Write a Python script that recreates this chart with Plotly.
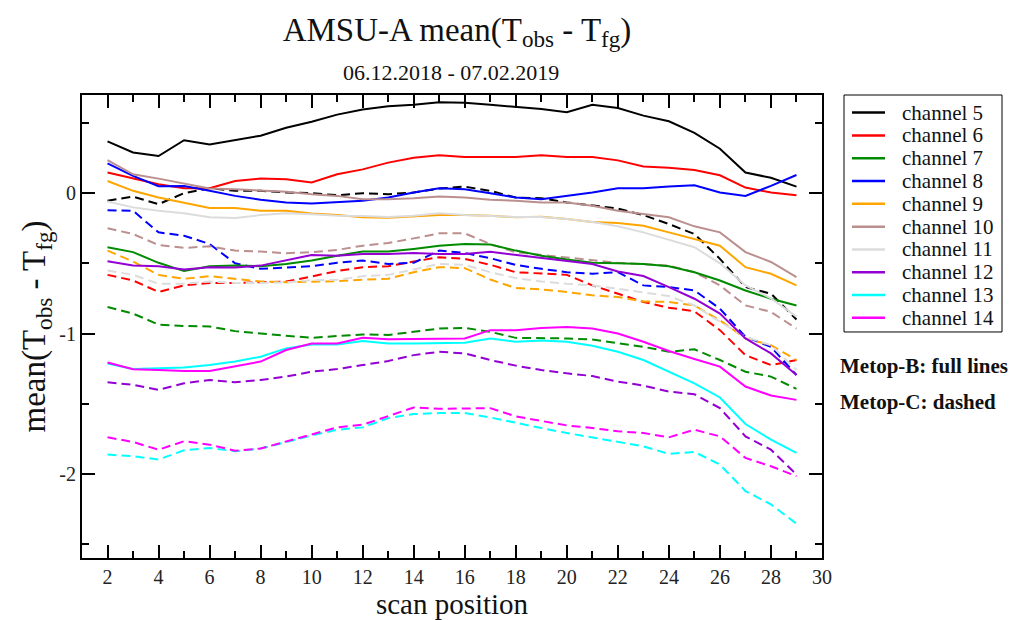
import plotly.graph_objects as go

# Scan positions 2..29
scan = list(range(2, 30))

channels = ["channel 5", "channel 6", "channel 7", "channel 8", "channel 9",
            "channel 10", "channel 11", "channel 12", "channel 13", "channel 14"]
colors = ["#000000", "#ff0000", "#008b00", "#0000ff", "#ffa500",
          "#bc8f8f", "#dcdcdc", "#9400d3", "#00ffff", "#ff00ff"]

y_ticks = [-2, -1, 0]
y_tick_labels = ["-2", "-1", "0"]

# Metop-B (full lines)
b_ch5 = [0.37, 0.29, 0.265, 0.378, 0.347, 0.378, 0.41, 0.466, 0.51, 0.56, 0.596, 0.62, 0.63, 0.648,
         0.645, 0.63, 0.615, 0.60, 0.577, 0.63, 0.607, 0.553, 0.513, 0.43, 0.317, 0.147, 0.11, 0.047]
b_ch6 = [0.147, 0.104, 0.064, 0.035, 0.035, 0.087, 0.104, 0.10, 0.076, 0.135, 0.17, 0.218, 0.253, 0.27,
         0.258, 0.258, 0.258, 0.27, 0.258, 0.258, 0.234, 0.19, 0.182, 0.165, 0.128, 0.04, 0.005, -0.014]
b_ch7 = [-0.385, -0.42, -0.496, -0.555, -0.52, -0.516, -0.52, -0.504, -0.48, -0.445, -0.416, -0.416,
         -0.397, -0.374, -0.362, -0.366, -0.409, -0.445, -0.473, -0.496, -0.50, -0.504, -0.52, -0.563,
         -0.622, -0.693, -0.752, -0.80]
b_ch8 = [0.213, 0.123, 0.05, 0.052, 0.017, -0.019, -0.047, -0.066, -0.073, -0.061, -0.054, -0.031,
         0.005, 0.035, 0.028, 0.0, -0.031, -0.043, -0.019, 0.005, 0.035, 0.035, 0.047, 0.057, 0.005,
         -0.019, 0.052, 0.13]
b_ch9 = [0.087, 0.017, -0.031, -0.066, -0.106, -0.106, -0.125, -0.125, -0.144, -0.156, -0.172, -0.175,
         -0.168, -0.156, -0.156, -0.16, -0.172, -0.168, -0.184, -0.205, -0.213, -0.232, -0.279, -0.326,
         -0.374, -0.527, -0.574, -0.657]
b_ch10 = [0.236, 0.135, 0.104, 0.069, 0.033, 0.028, 0.02, 0.01, -0.007, -0.019, -0.043, -0.043,
          -0.036, -0.024, -0.03, -0.047, -0.054, -0.066, -0.066, -0.09, -0.125, -0.149, -0.172, -0.236,
          -0.279, -0.42, -0.49, -0.598]
b_ch11 = [-0.059, -0.101, -0.125, -0.142, -0.172, -0.177, -0.156, -0.142, -0.15, -0.16, -0.163, -0.17,
          -0.16, -0.142, -0.156, -0.165, -0.17, -0.17, -0.184, -0.205, -0.236, -0.279, -0.331, -0.385,
          -0.50, -0.657, -0.75, -0.88]
b_ch12 = [-0.485, -0.516, -0.52, -0.544, -0.527, -0.53, -0.516, -0.48, -0.44, -0.445, -0.433, -0.433,
          -0.426, -0.433, -0.433, -0.418, -0.44, -0.463, -0.48, -0.504, -0.558, -0.59, -0.669, -0.752,
          -0.858, -1.035, -1.142, -1.296]
b_ch13 = [-1.213, -1.253, -1.248, -1.243, -1.225, -1.20, -1.165, -1.106, -1.078, -1.078, -1.054, -1.071,
          -1.071, -1.071, -1.066, -1.035, -1.059, -1.05, -1.059, -1.087, -1.13, -1.189, -1.272, -1.355,
          -1.456, -1.645, -1.757, -1.851]
b_ch14 = [-1.206, -1.255, -1.26, -1.267, -1.267, -1.236, -1.20, -1.118, -1.071, -1.071, -1.031, -1.04,
          -1.04, -1.04, -1.035, -0.976, -0.976, -0.96, -0.953, -0.965, -1.0, -1.059, -1.125, -1.182,
          -1.236, -1.378, -1.442, -1.473]

# Metop-C (dashed)
c_ch5 = [-0.054, -0.024, -0.078, 0.0, 0.035, 0.017, 0.017, 0.005, 0.0, -0.014, 0.0, -0.007, 0.005,
         0.033, 0.047, 0.017, -0.031, -0.036, -0.066, -0.085, -0.109, -0.156, -0.22, -0.291, -0.468,
         -0.669, -0.716, -0.90]
c_ch6 = [-0.582, -0.622, -0.704, -0.657, -0.64, -0.64, -0.634, -0.63, -0.593, -0.555, -0.527, -0.52,
         -0.487, -0.456, -0.468, -0.51, -0.563, -0.57, -0.582, -0.657, -0.716, -0.775, -0.816, -0.842,
         -0.976, -1.154, -1.225, -1.189]
c_ch7 = [-0.811, -0.858, -0.936, -0.946, -0.95, -0.983, -1.0, -1.017, -1.031, -1.017, -1.007, -1.01,
         -0.988, -0.965, -0.96, -0.988, -1.031, -1.031, -1.035, -1.043, -1.071, -1.095, -1.13, -1.113,
         -1.189, -1.272, -1.307, -1.395]
c_ch8 = [-0.121, -0.125, -0.279, -0.303, -0.362, -0.499, -0.539, -0.527, -0.52, -0.496, -0.48, -0.504,
         -0.496, -0.409, -0.426, -0.463, -0.511, -0.539, -0.563, -0.574, -0.563, -0.657, -0.669, -0.693,
         -0.823, -1.024, -1.095, -1.296]
c_ch9 = [-0.409, -0.487, -0.582, -0.61, -0.591, -0.61, -0.629, -0.634, -0.63, -0.627, -0.617, -0.61,
         -0.563, -0.527, -0.534, -0.615, -0.676, -0.686, -0.704, -0.728, -0.74, -0.771, -0.775, -0.80,
         -0.906, -1.035, -1.083, -1.189]
c_ch10 = [-0.25, -0.291, -0.369, -0.39, -0.378, -0.409, -0.416, -0.428, -0.42, -0.404, -0.374, -0.355,
          -0.322, -0.286, -0.286, -0.362, -0.421, -0.44, -0.456, -0.48, -0.496, -0.506, -0.516, -0.563,
          -0.657, -0.80, -0.846, -0.965]
c_ch11 = [-0.551, -0.582, -0.645, -0.645, -0.63, -0.64, -0.64, -0.635, -0.62, -0.617, -0.591, -0.582,
          -0.544, -0.504, -0.51, -0.563, -0.605, -0.629, -0.645, -0.657, -0.681, -0.709, -0.733, -0.80,
          -0.917, -1.024, -1.083, -1.26]
c_ch12 = [-1.348, -1.366, -1.402, -1.355, -1.331, -1.348, -1.331, -1.307, -1.272, -1.253, -1.225,
          -1.196, -1.154, -1.13, -1.142, -1.189, -1.229, -1.26, -1.284, -1.303, -1.343, -1.371, -1.414,
          -1.433, -1.532, -1.733, -1.828, -2.005]
c_ch13 = [-1.863, -1.875, -1.898, -1.832, -1.816, -1.839, -1.82, -1.773, -1.726, -1.686, -1.669,
          -1.603, -1.574, -1.567, -1.567, -1.598, -1.638, -1.674, -1.709, -1.74, -1.768, -1.804, -1.858,
          -1.844, -1.934, -2.123, -2.218, -2.355]
c_ch14 = [-1.74, -1.773, -1.828, -1.768, -1.792, -1.835, -1.82, -1.768, -1.716, -1.669, -1.65, -1.591,
          -1.527, -1.537, -1.537, -1.532, -1.591, -1.622, -1.655, -1.674, -1.697, -1.709, -1.74, -1.686,
          -1.733, -1.887, -1.946, -2.017]

metop_b = [b_ch5, b_ch6, b_ch7, b_ch8, b_ch9, b_ch10, b_ch11, b_ch12, b_ch13, b_ch14]
metop_c = [c_ch5, c_ch6, c_ch7, c_ch8, c_ch9, c_ch10, c_ch11, c_ch12, c_ch13, c_ch14]

SERIF = "Liberation Serif, Times New Roman, serif"
TEXT = "#111111"

# Figure geometry (pixels) used to place the legend box and side notes
W, H = 1015, 620
ML, MR, MT, MB = 82, 193, 95, 60
PW, PH = W - ML - MR, H - MT - MB


def px(x):
    return (x - ML) / PW


def py(y):
    return (H - MB - y) / PH


fig = go.Figure()

for name, col, vals in zip(channels, colors, metop_c):
    fig.add_trace(go.Scatter(x=scan, y=vals, mode="lines", name=name + " (Metop-C)",
                             showlegend=False,
                             line=dict(color=col, width=2, dash="9px,5px")))
for name, col, vals in zip(channels, colors, metop_b):
    fig.add_trace(go.Scatter(x=scan, y=vals, mode="lines", name=name + " (Metop-B)",
                             showlegend=False, line=dict(color=col, width=2)))

axis_common = dict(showline=True, linecolor="black", linewidth=2, mirror="allticks",
                   ticks="inside", ticklen=13, tickwidth=1.5, tickcolor="black",
                   showgrid=False, zeroline=False,
                   tickfont=dict(family=SERIF, size=20, color="#222"))

fig.update_xaxes(range=[1, 30], tick0=0, dtick=2,
                 minor=dict(ticks="inside", ticklen=7, tickwidth=1.5, tickcolor="black",
                            tick0=0, dtick=1, showgrid=False),
                 title=dict(text="scan position", font=dict(family=SERIF, size=29, color=TEXT),
                            standoff=0),
                 **axis_common)
fig.update_yaxes(range=[-2.6, 0.7], tickmode="array", tickvals=y_ticks, ticktext=y_tick_labels,
                 minor=dict(ticks="inside", ticklen=7, tickwidth=1.5, tickcolor="black",
                            tick0=0, dtick=0.5, showgrid=False),
                 title=dict(text="mean(T<sub>obs</sub> - T<sub>fg</sub>)",
                            font=dict(family=SERIF, size=33, color=TEXT), standoff=4),
                 **axis_common)

# Hand-built legend: framed box with one line sample and label per channel
shapes = [dict(type="rect", xref="paper", yref="paper",
               x0=px(844), x1=px(1002), y0=py(333), y1=py(95),
               line=dict(color="black", width=1), fillcolor="white", layer="above")]
annotations = []
for i, (name, col) in enumerate(zip(channels, colors)):
    yc = 112.7 + i * 22.9
    shapes.append(dict(type="line", xref="paper", yref="paper",
                       x0=px(852), x1=px(885), y0=py(yc), y1=py(yc),
                       line=dict(color=col, width=2.5), layer="above"))
    annotations.append(dict(text=name, xref="paper", yref="paper", x=px(900), y=py(yc),
                            xanchor="left", yanchor="middle", showarrow=False,
                            font=dict(family=SERIF, size=21, color=TEXT)))

annotations += [
    dict(text="06.12.2018 - 07.02.2019", xref="paper", yref="paper",
         x=px(451), y=py(72), xanchor="center", yanchor="middle", showarrow=False,
         font=dict(family=SERIF, size=22, color=TEXT)),
    dict(text="<b>Metop-B: full lines</b>", xref="paper", yref="paper",
         x=px(838), y=py(367), xanchor="left", yanchor="middle", showarrow=False,
         font=dict(family=SERIF, size=21, color=TEXT)),
    dict(text="<b>Metop-C: dashed</b>", xref="paper", yref="paper",
         x=px(838), y=py(403), xanchor="left", yanchor="middle", showarrow=False,
         font=dict(family=SERIF, size=21, color=TEXT)),
]

fig.update_layout(
    width=W, height=H,
    margin=dict(l=ML, r=MR, t=MT, b=MB),
    paper_bgcolor="white", plot_bgcolor="white",
    showlegend=False,
    title=dict(text="AMSU-A mean(T<sub>obs</sub> - T<sub>fg</sub>)",
               font=dict(family=SERIF, size=33, color=TEXT),
               x=457 / W, xanchor="center", y=1 - 29 / H, yanchor="middle"),
    shapes=shapes,
    annotations=annotations,
)

fig.write_html("out.html")
